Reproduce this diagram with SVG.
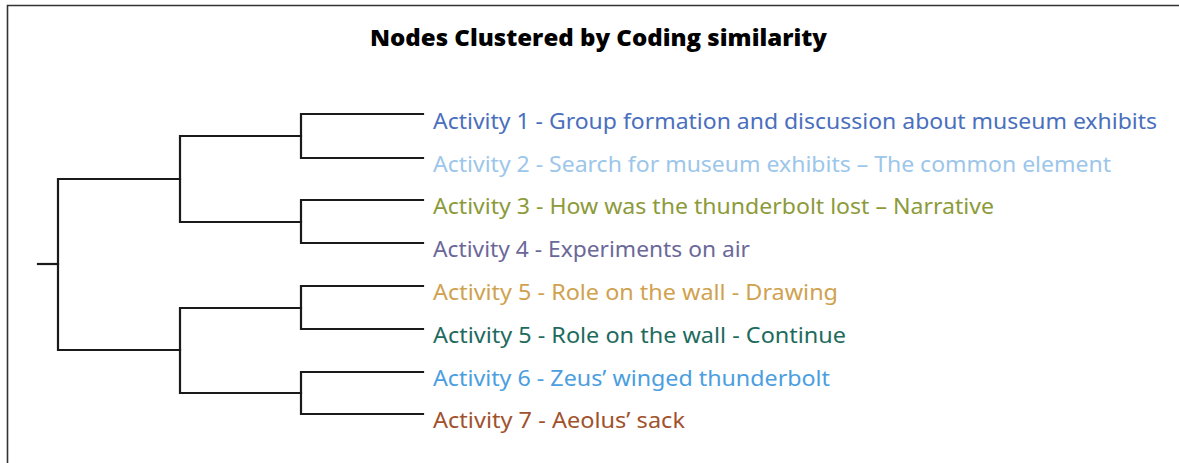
<svg xmlns="http://www.w3.org/2000/svg" width="1179" height="463" viewBox="0 0 1179 463">
<style>
.lbl{font-family:"Noto Sans","Open Sans","Liberation Sans",sans-serif;font-size:22px;}
.title{font-family:"Open Sans","Noto Sans","Liberation Sans",sans-serif;font-size:23px;font-weight:800;fill:#000;}
.tree{fill:none;stroke:#1a1a1a;stroke-width:2.2;stroke-linecap:square;}
</style>
<rect width="1179" height="463" fill="#fff"/>
<path d="M7.5,463 V5.5 H1179" fill="none" stroke="#333" stroke-width="1.6"/>
<text id="title" class="title" x="370" y="45.5" textLength="457" lengthAdjust="spacingAndGlyphs">Nodes Clustered by Coding similarity</text>
<g id="connectors" class="tree">
<path d="M38,264 H58"/>
<path d="M180,179 H58 V350 H180"/>
<path d="M301,136 H180 V222 H301"/>
<path d="M301,308 H180 V393 H301"/>
<path d="M423,114 H301 V158 H423"/>
<path d="M423,200 H301 V243 H423"/>
<path d="M423,286 H301 V329 H423"/>
<path d="M423,372 H301 V414 H423"/>
</g>
<g id="node1"><text class="lbl" x="433" y="128.5" fill="#4A6FBD" textLength="724" lengthAdjust="spacingAndGlyphs">Activity 1 - Group formation and discussion about museum exhibits</text></g>
<g id="node2"><text class="lbl" x="433" y="171.5" fill="#9CC6EA" textLength="678" lengthAdjust="spacingAndGlyphs">Activity 2 - Search for museum exhibits – The common element</text></g>
<g id="node3"><text class="lbl" x="433" y="214" fill="#8C9A3A" textLength="561" lengthAdjust="spacingAndGlyphs">Activity 3 - How was the thunderbolt lost – Narrative</text></g>
<g id="node4"><text class="lbl" x="433" y="257" fill="#6B6899" textLength="317" lengthAdjust="spacingAndGlyphs">Activity 4 - Experiments on air</text></g>
<g id="node5"><text class="lbl" x="433" y="300" fill="#D0A24F" textLength="405" lengthAdjust="spacingAndGlyphs">Activity 5 - Role on the wall - Drawing</text></g>
<g id="node6"><text class="lbl" x="433" y="342.5" fill="#1E6B5E" textLength="413" lengthAdjust="spacingAndGlyphs">Activity 5 - Role on the wall - Continue</text></g>
<g id="node7"><text class="lbl" x="433" y="385.5" fill="#4B9EE0" textLength="397" lengthAdjust="spacingAndGlyphs">Activity 6 - Zeus’ winged thunderbolt</text></g>
<g id="node8"><text class="lbl" x="433" y="428" fill="#A0522D" textLength="252" lengthAdjust="spacingAndGlyphs">Activity 7 - Aeolus’ sack</text></g>
</svg>
